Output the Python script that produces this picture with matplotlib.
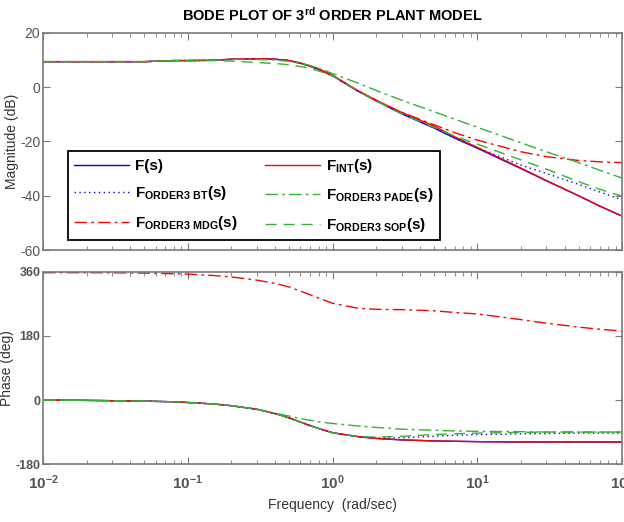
import matplotlib
matplotlib.use("Agg")
import matplotlib.pyplot as plt
from matplotlib.ticker import LogLocator, NullFormatter

plt.rcParams["font.family"] = ["Liberation Sans", "DejaVu Sans"]
plt.rcParams["mathtext.default"] = "regular"
plt.rcParams["axes.unicode_minus"] = False

# frequency grid (rad/sec) shared by all series
freq = [0.01, 0.02, 0.05, 0.08, 0.1, 0.15, 0.2, 0.3, 0.4, 0.5, 0.6, 0.7, 0.8,
        1, 1.5, 2, 3, 5, 7, 10, 20, 30, 50, 70, 100]

# magnitude (dB)
mag_f = [9.4, 9.4, 9.4, 9.8, 9.8, 9.9, 10.3, 10.4, 10.3, 9.8, 8.8, 7.7, 6.6,
         4.2, -1.5, -5.0, -9.8, -15.0, -18.8, -22.5, -30.0, -34.5, -40.0, -43.8, -47.5]
mag_int = [9.4, 9.4, 9.4, 9.8, 9.8, 9.9, 10.3, 10.4, 10.3, 9.8, 8.9, 7.9, 6.8,
           4.4, -1.3, -4.8, -9.3, -14.3, -18.3, -22.2, -29.8, -34.4, -40.0, -43.8, -47.5]
mag_bt = [9.4, 9.4, 9.4, 9.8, 9.8, 9.9, 10.3, 10.4, 10.3, 9.8, 8.8, 7.7, 6.6,
          4.2, -1.5, -5.0, -9.8, -15.0, -18.8, -22.3, -28.7, -31.8, -35.8, -38.6, -41.5]
mag_pade = [9.4, 9.4, 9.4, 9.8, 9.8, 9.9, 10.2, 10.2, 10.0, 9.5, 8.8, 7.9, 7.0,
            5.0, 1.5, -1.2, -4.8, -9.0, -11.8, -14.8, -20.5, -23.8, -27.8, -30.6, -33.5]
mag_sop = [9.4, 9.4, 9.4, 9.8, 9.8, 9.8, 9.6, 9.1, 8.7, 8.3, 7.6, 6.9, 6.0,
           4.2, -1.5, -5.0, -9.8, -14.8, -18.0, -21.0, -26.8, -30.2, -34.8, -37.6, -40.2]
mag_mdg = [9.4, 9.4, 9.4, 9.8, 9.8, 9.9, 10.3, 10.4, 10.3, 9.8, 8.8, 7.7, 6.6,
           4.2, -1.5, -5.0, -9.3, -13.8, -16.8, -19.5, -23.8, -25.6, -27.0, -27.5, -27.8]

# phase (deg)
ph_f = [0, -1, -3, -5, -7, -11, -16, -26, -38, -50, -62, -72, -80,
        -92, -103, -108, -112, -115, -116, -117, -118, -118, -118, -118, -118]
ph_int = [0, -1, -3, -5, -7, -11, -16, -26, -38, -50, -62, -72, -80,
          -92, -103, -108, -112, -115, -116, -117, -118, -118, -118, -118, -118]
ph_bt = [0, -1, -3, -5, -7, -11, -16, -26, -38, -50, -62, -72, -80,
         -92, -103, -107, -106, -102, -99, -97, -95, -94, -93, -93, -93]
ph_pade = [0, -1, -3, -5, -7, -11, -16, -26, -37, -45, -52, -57, -61,
           -66, -73, -77, -82, -85, -87, -88, -89, -90, -90, -90, -90]
ph_sop = [0, -1, -3, -5, -7, -11, -16, -26, -38, -50, -62, -72, -80,
          -92, -103, -104, -102, -97, -95, -93, -91, -90, -90, -90, -90]
ph_mdg = [358, 358, 357, 355, 354, 350, 346, 337, 328, 318, 306, 296, 287,
          272, 258, 255, 254, 251, 246, 242, 226, 216, 205, 199, 194]

labels = [
    r"F(s)",
    r"F$_{ORDER3\ BT}$(s)",
    r"F$_{ORDER3\ MDG}$(s)",
    r"F$_{INT}$(s)",
    r"F$_{ORDER3\ PADE}$(s)",
    r"F$_{ORDER3\ SOP}$(s)",
]

BLUE = (0, 0, 1)
RED = (1, 0, 0)
GREEN = (0.2, 0.7, 0.2)
DASHDOT = (0, (9, 3, 2, 3))
DASHED = (0, (8, 5))
styles = [
    dict(color=BLUE, ls="-"),
    dict(color=BLUE, ls=(0, (1, 2.5))),
    dict(color=RED, ls=DASHDOT),
    dict(color=RED, ls="-"),
    dict(color=GREEN, ls=DASHDOT),
    dict(color=GREEN, ls=DASHED),
]
mags = [mag_f, mag_bt, mag_mdg, mag_int, mag_pade, mag_sop]
phases = [ph_f, ph_bt, ph_mdg, ph_int, ph_pade, ph_sop]

fig = plt.figure(figsize=(6.24, 5.22), dpi=100)
ax1 = fig.add_axes([0.069, 0.521, 0.928, 0.416])
ax2 = fig.add_axes([0.069, 0.111, 0.928, 0.368])

AXCOL = "#7a7a7a"
for ax in (ax1, ax2):
    ax.set_xscale("log")
    ax.set_xlim(0.01, 100)
    for sp in ax.spines.values():
        sp.set_color(AXCOL)
        sp.set_linewidth(1.2)
    ax.xaxis.set_major_locator(LogLocator(base=10, numticks=10))
    ax.xaxis.set_minor_locator(LogLocator(base=10, subs=range(2, 10), numticks=50))
    ax.xaxis.set_minor_formatter(NullFormatter())
    ax.tick_params(which="both", direction="in", top=True, right=True,
                   color=AXCOL, labelcolor="#555555")
    ax.tick_params(which="major", length=5)
    ax.tick_params(which="minor", length=3)
    ax.tick_params(axis="y", pad=2)

handles = []
for m, p, st, lab in zip(mags, phases, styles, labels):
    h, = ax1.plot(freq, m, lw=1.0, label=lab, **st)
    ax2.plot(freq, p, lw=1.0, **st)
    handles.append(h)

ax1.set_ylim(-60, 20)
ax1.set_yticks([-60, -40, -20, 0, 20])
ax1.tick_params(axis="x", labelbottom=False)
ax1.tick_params(axis="y", labelsize=10)
ax1.set_ylabel("Magnitude (dB)", fontsize=10, color="#333333", labelpad=1)
ax1.set_title("BODE PLOT OF 3$^{rd}$ ORDER PLANT MODEL", fontsize=10.5,
              fontweight="bold", pad=9)

ax2.set_ylim(-180, 360)
ax2.set_yticks([-180, 0, 180, 360])
ax2.tick_params(axis="y", labelsize=9)
for t in ax2.get_yticklabels():
    t.set_fontweight("bold")
ax2.tick_params(axis="x", labelsize=11, pad=7)
for t in ax2.get_xticklabels():
    t.set_fontweight("bold")
ax2.set_ylabel("Phase (deg)", fontsize=10, color="#333333", labelpad=1)
ax2.set_xlabel("Frequency  (rad/sec)", fontsize=10, color="#333333", labelpad=4)

leg = ax1.legend(handles=handles, ncol=2, loc="lower left",
                 bbox_to_anchor=(68 / 624, 1 - 240 / 522, 372 / 624, 94 / 522),
                 bbox_transform=fig.transFigure, mode="expand",
                 fancybox=False, framealpha=1, edgecolor="black",
                 prop=dict(size=11, weight="bold"),
                 handlelength=3.6, handletextpad=0.4,
                 labelspacing=0.75, borderaxespad=0, columnspacing=0.8)
leg.get_frame().set_linewidth(1.3)

fig.savefig("out.png", dpi=100)
